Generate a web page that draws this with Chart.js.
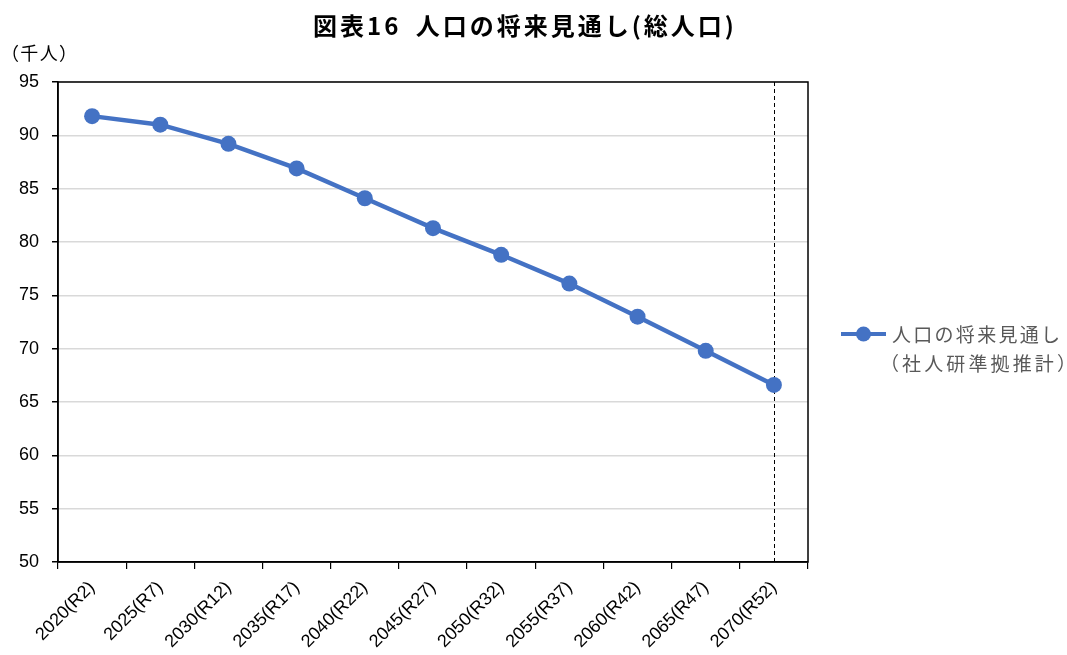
<!DOCTYPE html>
<html><head><meta charset="utf-8">
<script src="https://cdn.jsdelivr.net/npm/chart.js@4.4.1/dist/chart.umd.min.js"></script>
<style>html,body{margin:0;padding:0;background:#fff}#wrap{width:1067px;height:655px}</style>
</head><body><div id="wrap"><canvas id="c" width="1067" height="655"></canvas></div>
<script>
const categories = ["2020(R2)","2025(R7)","2030(R12)","2035(R17)","2040(R22)","2045(R27)","2050(R32)","2055(R37)","2060(R42)","2065(R47)","2070(R52)"];
const population = [91.8, 91.0, 89.2, 86.9, 84.1, 81.3, 78.8, 76.1, 73.0, 69.8, 66.6];
const seriesName = ["人口の将来見通し", "（社人研準拠推計）"];
const chartTitle = "図表16 人口の将来見通し(総人口)";
const yUnit = "（千人）";
const yMin = 50, yMax = 95, yStep = 5;

const BLUE = '#4472C4';
const CJK = '"Noto Sans CJK JP", "Noto Sans", sans-serif';
const LAT = '"Liberation Sans", Arial, sans-serif';

function fitText(ctx, text, x, y, target, align) {
  ctx.letterSpacing = '0px';
  const w = ctx.measureText(text).width;
  const n = [...text].length;
  const sp = n > 1 ? (target - w) / (n - 1) : 0;
  ctx.letterSpacing = sp.toFixed(2) + 'px';
  ctx.textAlign = align || 'left';
  ctx.fillText(text, x, y);
  ctx.letterSpacing = '0px';
}

const decor = {
  id: 'decor',
  beforeDatasetsDraw(chart) {
    const {ctx, chartArea: a, scales} = chart;
    ctx.save();
    const xl = scales.x.getPixelForValue(categories.length - 1);
    ctx.strokeStyle = '#000';
    ctx.lineWidth = 1;
    ctx.setLineDash([4, 3]);
    ctx.beginPath();
    ctx.moveTo(Math.round(xl) + 0.5, a.top);
    ctx.lineTo(Math.round(xl) + 0.5, a.bottom);
    ctx.stroke();
    ctx.setLineDash([]);
    ctx.lineWidth = 1.5;
    ctx.strokeRect(a.left, a.top, a.right - a.left, a.bottom - a.top);
    ctx.restore();
  },
  afterDraw(chart) {
    const {ctx} = chart;
    ctx.save();
    ctx.fillStyle = '#000';
    ctx.textBaseline = 'middle';
    ctx.textAlign = 'left';
    ctx.font = 'bold 24px ' + CJK;
    ctx.letterSpacing = '3px';
    ctx.wordSpacing = '6px';
    ctx.fillText(chartTitle, 313, 26);
    ctx.letterSpacing = '0px';
    ctx.wordSpacing = '0px';
    ctx.font = '18px ' + CJK;
    fitText(ctx, yUnit, 1, 53, 76, 'left');
    const ly = 334;
    ctx.strokeStyle = BLUE;
    ctx.lineWidth = 4;
    ctx.beginPath();
    ctx.moveTo(841, ly); ctx.lineTo(886, ly);
    ctx.stroke();
    ctx.fillStyle = BLUE;
    ctx.beginPath();
    ctx.arc(863.5, ly, 7.5, 0, Math.PI * 2);
    ctx.fill();
    ctx.fillStyle = '#595959';
    ctx.font = '19px ' + CJK;
    fitText(ctx, seriesName[0], 892, ly + 1, 168, 'left');
    fitText(ctx, seriesName[1], 880, ly + 30, 196, 'left');
    ctx.restore();
  }
};

new Chart(document.getElementById('c'), {
  type: 'line',
  data: {
    labels: categories,
    datasets: [{
      label: seriesName.join(''),
      data: population,
      borderColor: BLUE,
      backgroundColor: BLUE,
      borderWidth: 4.5,
      pointRadius: 8,
      pointHoverRadius: 8,
      pointBackgroundColor: BLUE,
      pointBorderColor: BLUE,
      pointBorderWidth: 0,
      tension: 0
    }]
  },
  options: {
    responsive: false,
    animation: false,
    devicePixelRatio: 1,
    layout: {padding: {top: 82, right: 259, left: 0, bottom: 0}},
    plugins: {legend: {display: false}, title: {display: false}, tooltip: {enabled: false}},
    scales: {
      x: {
        type: 'category',
        offset: true,
        grid: {offset: true, drawOnChartArea: false, drawTicks: true, tickLength: 7, color: '#000', lineWidth: 1.2},
        border: {color: '#000', width: 1.5},
        ticks: {
          color: '#000', minRotation: 45, maxRotation: 45, autoSkip: false, padding: 8,
          font: {family: LAT, size: 18}
        },
        afterFit(s) { s.height = 93; }
      },
      y: {
        min: yMin, max: yMax,
        ticks: {stepSize: yStep, color: '#000', padding: 13,
          font: {family: LAT, size: 18}},
        grid: {color: '#d9d9d9', lineWidth: 1.5, tickColor: '#000', tickLength: 6, drawTicks: true},
        border: {color: '#000', width: 1.5},
        afterFit(s) { s.width = 58; }
      }
    }
  },
  plugins: [decor]
});
</script>
</body></html>
